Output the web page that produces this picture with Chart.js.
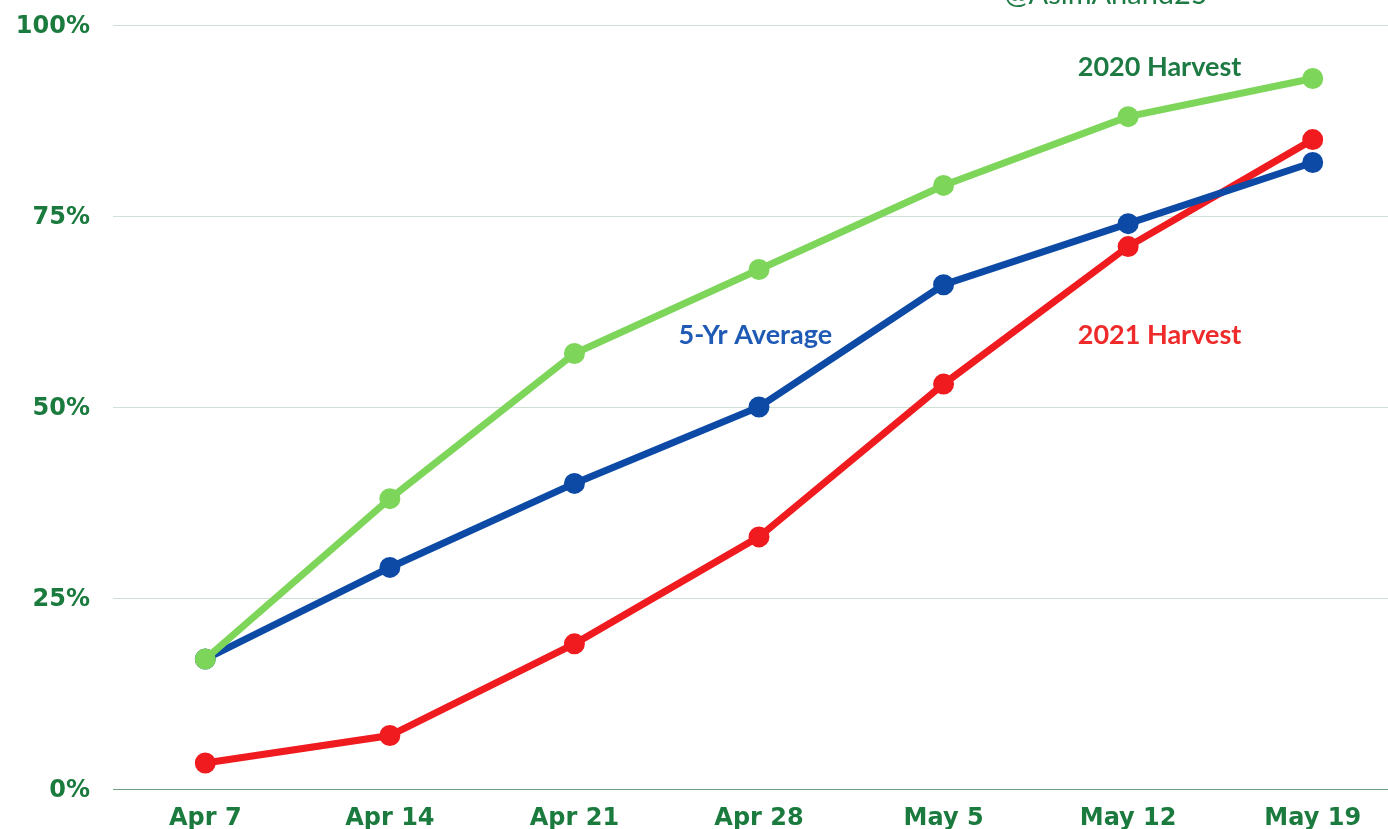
<!DOCTYPE html>
<html>
<head>
<meta charset="utf-8">
<script src="https://cdn.jsdelivr.net/npm/chart.js@4"></script>
<style>
  html, body { margin: 0; padding: 0; background: #ffffff; overflow: hidden; }
  #wrap { width: 1419px; height: 829px; position: relative; }
</style>
</head>
<body>
<div id="wrap"><canvas id="c"></canvas></div>
<script>
const categories = ["Apr 7", "Apr 14", "Apr 21", "Apr 28", "May 5", "May 12", "May 19"];
const harvest2020 = [17, 38, 57, 68, 79, 88, 93];
const fiveYrAverage = [17, 29, 40, 50, 66, 74, 82];
const harvest2021 = [3.4, 7, 19, 33, 53, 71, 85];
const yTicks = [0, 25, 50, 75, 100];

// annotation labels: text, anchor (category index, value), colour
const labelTexts = ["2020 Harvest", "5-Yr Average", "2021 Harvest"];
const labelX = [5.17, 2.98, 5.17];
const labelY = [94.4, 59.4, 59.4];
const labelColors = ["#1d7a43", "#1f5bb5", "#ee2a2a"];
const credit = "@AsimAnand25";

const tickGreen = "#1b7a3e";

const labelPlugin = {
  id: 'labels',
  afterDatasetsDraw(chart) {
    const ctx = chart.ctx;
    const xs = chart.scales.x, ys = chart.scales.y;
    ctx.save();
    ctx.font = "bold 27px Lato";
    ctx.textAlign = "center";
    ctx.textBaseline = "middle";
    for (let i = 0; i < labelTexts.length; i++) {
      const i0 = Math.floor(labelX[i]);
      const f = labelX[i] - i0;
      const p0 = xs.getPixelForValue(i0);
      const p1 = xs.getPixelForValue(Math.min(i0 + 1, categories.length - 1));
      const px = p0 + (p1 - p0) * f;
      const py = ys.getPixelForValue(labelY[i]);
      ctx.fillStyle = labelColors[i];
      ctx.fillText(labelTexts[i], px, py);
    }
    // credit, partially cut at the top
    ctx.font = "29px Lato";
    ctx.fillStyle = "#1d7a43";
    ctx.textBaseline = "alphabetic";
    const p4 = xs.getPixelForValue(4), p5 = xs.getPixelForValue(5);
    ctx.fillText(credit, p4 + (p5 - p4) * 0.88, 4);
    ctx.restore();
  }
};

new Chart(document.getElementById('c'), {
  type: 'line',
  data: {
    labels: categories,
    datasets: [
      { label: "2020 Harvest", data: harvest2020, borderColor: "#7dd65a", backgroundColor: "#7dd65a" },
      { label: "5-Yr Average", data: fiveYrAverage, borderColor: "#0c4aa6", backgroundColor: "#0c4aa6" },
      { label: "2021 Harvest", data: harvest2021, borderColor: "#f01b1f", backgroundColor: "#f01b1f" }
    ].map(d => Object.assign(d, { borderWidth: 7, pointRadius: 7, pointHoverRadius: 7, tension: 0, fill: false }))
  },
  plugins: [labelPlugin],
  options: {
    responsive: true,
    maintainAspectRatio: false,
    animation: false,
    events: [],
    layout: { padding: { top: 25, right: 0, left: 0, bottom: 0 } },
    plugins: { legend: { display: false }, tooltip: { enabled: false }, title: { display: false } },
    scales: {
      x: {
        offset: true,
        grid: { display: false, drawTicks: false },
        border: { display: false },
        ticks: { color: tickGreen, font: { family: "DejaVu Sans", weight: "bold", size: 24 }, padding: 15, maxRotation: 0, autoSkip: false },
        afterFit(scale) { scale.height = 40; }
      },
      y: {
        min: 0, max: 100,
        afterBuildTicks(scale) { scale.ticks = yTicks.map(v => ({ value: v })); },
        grid: {
          drawTicks: false,
          color: ctx => ctx.tick && ctx.tick.value === 0 ? "#6f9f80" : "#cfe0d4",
          lineWidth: 1
        },
        border: { display: false },
        ticks: { color: tickGreen, font: { family: "DejaVu Sans", weight: "bold", size: 24 }, padding: 23, labelOffset: 2, callback: v => v + "%" },
        afterFit(scale) { scale.width = 113; scale.paddingTop = 0; scale.paddingBottom = 0; }
      }
    }
  }
});
</script>
</body>
</html>
